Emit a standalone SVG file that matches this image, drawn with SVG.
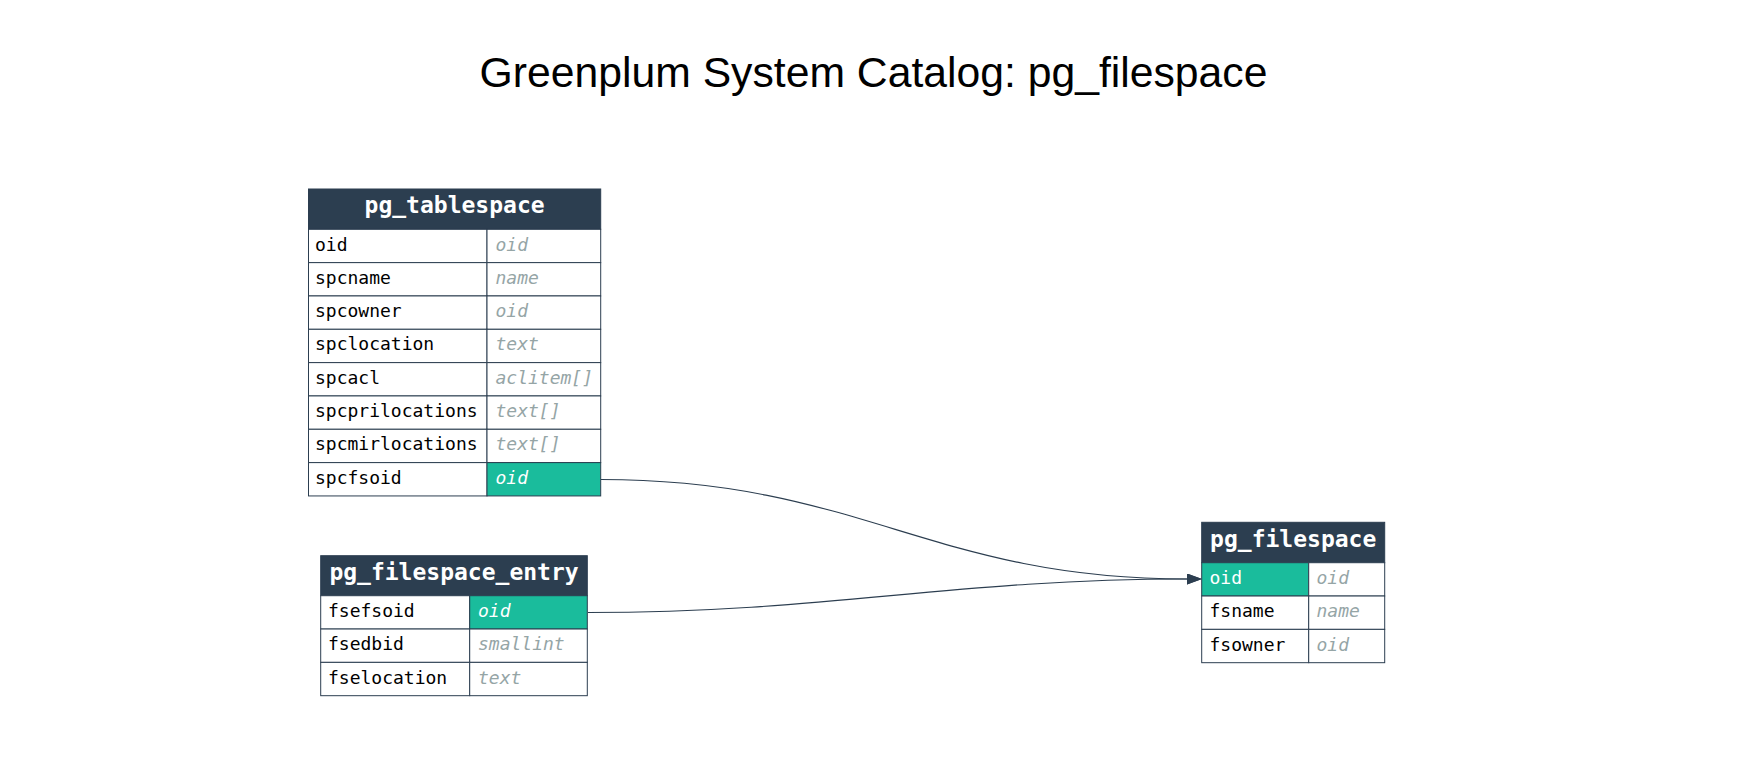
<svg xmlns="http://www.w3.org/2000/svg" width="1747" height="771" viewBox="0 0 1747 771">
<style>
.title{font-family:"Liberation Sans",Arial,sans-serif;font-size:42.7px;fill:#000}
.hdr{fill:#2c3e50;stroke:#2c3e50;stroke-width:1}
.cell{fill:#fff;stroke:#2c3e50;stroke-width:1}
.key{fill:#1abc9c;stroke:#2c3e50;stroke-width:1}
.ht{font-family:"DejaVu Sans Mono",monospace;font-weight:bold;font-size:23px;fill:#fff;text-anchor:middle}
.fn{font-family:"DejaVu Sans Mono",monospace;font-size:18px;fill:#000}
.ty{font-family:"DejaVu Sans Mono",monospace;font-size:18px;font-style:italic;fill:#95a5a6}
.tyk{font-family:"DejaVu Sans Mono",monospace;font-size:18px;font-style:italic;fill:#fff}
.fnk{font-family:"DejaVu Sans Mono",monospace;font-size:18px;fill:#fff}
.edge{fill:none;stroke:#2c3e50;stroke-width:1.1}
</style>
<defs>
<marker id="arr" viewBox="0 0 15 11" refX="0" refY="5.5" markerWidth="15" markerHeight="11" markerUnits="userSpaceOnUse" orient="auto">
<path d="M0,0 L15,5.5 L0,11 z" fill="#2c3e50"/>
</marker>
</defs>
<rect width="1747" height="771" fill="#fff"/>
<text class="title" x="873.5" y="87" text-anchor="middle">Greenplum System Catalog: pg_filespace</text>

<g id="connectors">
<path class="edge" d="M601,479.5 C860,479.5 930,579 1187,579" marker-end="url(#arr)"/>
<path class="edge" d="M588,612.5 C830,612.5 950,579 1187,579" marker-end="url(#arr)"/>
</g>

<g id="pg_tablespace">
<rect class="hdr" x="308.5" y="189" width="292.2" height="40.3"/>
<text class="ht" x="454.6" y="213.3">pg_tablespace</text>
<rect class="cell" x="308.5" y="229.3" width="178.5" height="33.33"/><rect class="cell" x="487" y="229.3" width="113.7" height="33.33"/>
<rect class="cell" x="308.5" y="262.63" width="178.5" height="33.33"/><rect class="cell" x="487" y="262.63" width="113.7" height="33.33"/>
<rect class="cell" x="308.5" y="295.96" width="178.5" height="33.33"/><rect class="cell" x="487" y="295.96" width="113.7" height="33.33"/>
<rect class="cell" x="308.5" y="329.29" width="178.5" height="33.33"/><rect class="cell" x="487" y="329.29" width="113.7" height="33.33"/>
<rect class="cell" x="308.5" y="362.62" width="178.5" height="33.33"/><rect class="cell" x="487" y="362.62" width="113.7" height="33.33"/>
<rect class="cell" x="308.5" y="395.95" width="178.5" height="33.33"/><rect class="cell" x="487" y="395.95" width="113.7" height="33.33"/>
<rect class="cell" x="308.5" y="429.28" width="178.5" height="33.33"/><rect class="cell" x="487" y="429.28" width="113.7" height="33.33"/>
<rect class="cell" x="308.5" y="462.61" width="178.5" height="33.33"/><rect class="key" x="487" y="462.61" width="113.7" height="33.33"/>
<text class="fn" x="315" y="250.5">oid</text><text class="ty" x="495.5" y="250.5">oid</text>
<text class="fn" x="315" y="283.8">spcname</text><text class="ty" x="495.5" y="283.8">name</text>
<text class="fn" x="315" y="317.1">spcowner</text><text class="ty" x="495.5" y="317.1">oid</text>
<text class="fn" x="315" y="350.4">spclocation</text><text class="ty" x="495.5" y="350.4">text</text>
<text class="fn" x="315" y="383.8">spcacl</text><text class="ty" x="495.5" y="383.8">aclitem[]</text>
<text class="fn" x="315" y="417.1">spcprilocations</text><text class="ty" x="495.5" y="417.1">text[]</text>
<text class="fn" x="315" y="450.4">spcmirlocations</text><text class="ty" x="495.5" y="450.4">text[]</text>
<text class="fn" x="315" y="483.8">spcfsoid</text><text class="tyk" x="495.5" y="483.8">oid</text>
</g>

<g id="pg_filespace_entry">
<rect class="hdr" x="320.7" y="555.7" width="266.6" height="40"/>
<text class="ht" x="454" y="580">pg_filespace_entry</text>
<rect class="cell" x="320.7" y="595.7" width="149" height="33.33"/><rect class="key" x="469.7" y="595.7" width="117.6" height="33.33"/>
<rect class="cell" x="320.7" y="629.03" width="149" height="33.33"/><rect class="cell" x="469.7" y="629.03" width="117.6" height="33.33"/>
<rect class="cell" x="320.7" y="662.36" width="149" height="33.33"/><rect class="cell" x="469.7" y="662.36" width="117.6" height="33.33"/>
<text class="fn" x="328" y="616.9">fsefsoid</text><text class="tyk" x="478" y="616.9">oid</text>
<text class="fn" x="328" y="650.2">fsedbid</text><text class="ty" x="478" y="650.2">smallint</text>
<text class="fn" x="328" y="683.5">fselocation</text><text class="ty" x="478" y="683.5">text</text>
</g>

<g id="pg_filespace">
<rect class="hdr" x="1201.7" y="522.3" width="183" height="40.4"/>
<text class="ht" x="1293.2" y="546.7">pg_filespace</text>
<rect class="key" x="1201.7" y="562.7" width="107" height="33.33"/><rect class="cell" x="1308.7" y="562.7" width="76" height="33.33"/>
<rect class="cell" x="1201.7" y="596.03" width="107" height="33.33"/><rect class="cell" x="1308.7" y="596.03" width="76" height="33.33"/>
<rect class="cell" x="1201.7" y="629.36" width="107" height="33.33"/><rect class="cell" x="1308.7" y="629.36" width="76" height="33.33"/>
<text class="fnk" x="1209.5" y="583.9">oid</text><text class="ty" x="1316.5" y="583.9">oid</text>
<text class="fn" x="1209.5" y="617.2">fsname</text><text class="ty" x="1316.5" y="617.2">name</text>
<text class="fn" x="1209.5" y="650.5">fsowner</text><text class="ty" x="1316.5" y="650.5">oid</text>
</g>
</svg>
